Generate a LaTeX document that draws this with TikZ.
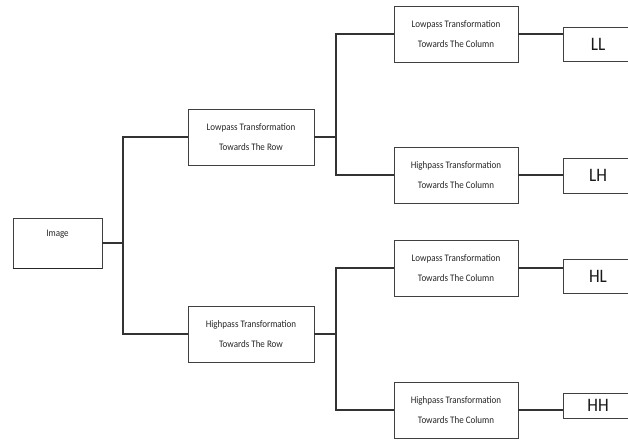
\documentclass[tikz,border=0pt]{standalone}
\usepackage{fontspec}
\setmainfont{Carlito}[FakeStretch=0.9]
\usepackage{tikz}

\begin{document}
\begin{tikzpicture}[x=1pt,y=-1pt,
	box/.style={draw=black!75, line width=0.9pt, fill=white, inner sep=0pt, align=center, font=\fontsize{10}{20}\selectfont, text=black!85},
	rowbox/.style={box, minimum width=126pt, minimum height=56pt},
	colbox/.style={box, minimum width=124pt, minimum height=56pt},
	outbox/.style={box, minimum width=70pt, font=\fontsize{19}{20}\selectfont, text=black!90},
	link/.style={draw=black!80, line width=1.1pt}]
	\useasboundingbox [fill=white] (0,0) rectangle (628,440);
	\node [box, minimum width=89pt, text height=18pt, text depth=32pt] (img) at (57.5,243) {Image};
	\draw [black!85, line width=1.6pt] (img.south west) -- (img.south east);
	\node [rowbox] (rowL) at (251,137) {Lowpass Transformation\\Towards The Row};
	\node [rowbox] (rowH) at (251,334) {Highpass Transformation\\Towards The Row};
	\node [colbox] (colLL) at (456,34) {Lowpass Transformation\\Towards The Column};
	\node [colbox] (colLH) at (456,175) {Highpass Transformation\\Towards The Column};
	\node [colbox] (colHL) at (456,268) {Lowpass Transformation\\Towards The Column};
	\node [colbox] (colHH) at (456,410) {Highpass Transformation\\Towards The Column};
	\node [outbox, minimum height=34pt] (LL) at (598,44) {LL};
	\node [outbox, minimum height=35pt] (LH) at (598,175.5) {LH};
	\node [outbox, minimum height=34pt] (HL) at (598,276) {HL};
	\node [outbox, minimum height=25pt] (HH) at (598,405.5) {HH};
	\coordinate (j0) at (123,243);
	\coordinate (j1) at (336,137);
	\coordinate (j2) at (336,334);
	% image to row transforms
	\draw [link] (img.east) -- (j0);
	\draw [link] (j0) |- (rowL.west);
	\draw [link] (j0) |- (rowH.west);
	% row transforms to column transforms
	\draw [link] (rowL.east) -- (j1);
	\draw [link] (j1) |- (colLL.west);
	\draw [link] (j1) |- (colLH.west);
	\draw [link] (rowH.east) -- (j2);
	\draw [link] (j2) |- (colHL.west);
	\draw [link] (j2) |- (colHH.west);
	% column transforms to sub-bands
	\draw [link] (colLL.east) -- (colLL.east -| LL.west);
	\draw [link] (colLH.east) -- (colLH.east -| LH.west);
	\draw [link] (colHL.east) -- (colHL.east -| HL.west);
	\draw [link] (colHH.east) -- (colHH.east -| HH.west);
\end{tikzpicture}
\end{document}
